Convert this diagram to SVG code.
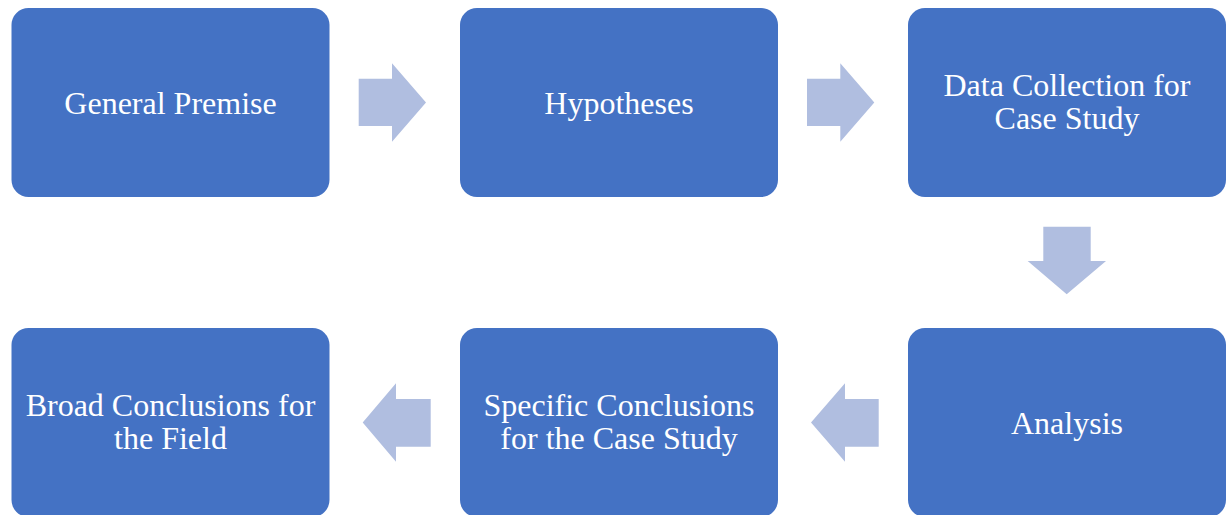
<svg xmlns="http://www.w3.org/2000/svg" width="1230" height="515" viewBox="0 0 1230 515">
<style>
.box{fill:#4472C4;}
.lbl{font-family:"Liberation Serif","Times New Roman",serif;font-size:32px;fill:#FFFFFF;text-anchor:middle;}
.arr{fill:#B0BEE0;}
</style>
<rect width="1230" height="515" fill="#FFFFFF"/>
<g id="n1"><rect class="box" x="11.5" y="8" width="318" height="189" rx="17"/><text class="lbl" x="170.5" y="113.5">General Premise</text></g>
<g id="n2"><rect class="box" x="460" y="8" width="318" height="189" rx="17"/><text class="lbl" x="619" y="113.5">Hypotheses</text></g>
<g id="n3"><rect class="box" x="908" y="8" width="318" height="189" rx="17"/><text class="lbl" x="1067" y="96">Data Collection for</text><text class="lbl" x="1067" y="128.5">Case Study</text></g>
<g id="n4"><rect class="box" x="908" y="328" width="318" height="189" rx="17"/><text class="lbl" x="1067" y="433.5">Analysis</text></g>
<g id="n5"><rect class="box" x="460" y="328" width="318" height="189" rx="17"/><text class="lbl" x="619" y="416">Specific Conclusions</text><text class="lbl" x="619" y="448.5">for the Case Study</text></g>
<g id="n6"><rect class="box" x="11.5" y="328" width="318" height="189" rx="17"/><text class="lbl" x="170.5" y="416">Broad Conclusions for</text><text class="lbl" x="170.5" y="448.5">the Field</text></g>
<g id="connectors">
<polygon class="arr" points="358.7,78.7 392,78.7 392,63.3 426,102.5 392,141.7 392,126 358.7,126"/>
<polygon class="arr" points="807,78.7 840.3,78.7 840.3,63.3 874.3,102.5 840.3,141.7 840.3,126 807,126"/>
<polygon class="arr" points="1043.3,226.7 1090.7,226.7 1090.7,261 1106,261 1066.7,294.3 1027.7,261 1043.3,261"/>
<polygon class="arr" points="878.7,399 845,399 845,383.3 811,422.5 845,461.7 845,446.7 878.7,446.7"/>
<polygon class="arr" points="430.7,399 396,399 396,383.3 362.7,422.5 396,461.7 396,446.7 430.7,446.7"/>
</g>
</svg>
